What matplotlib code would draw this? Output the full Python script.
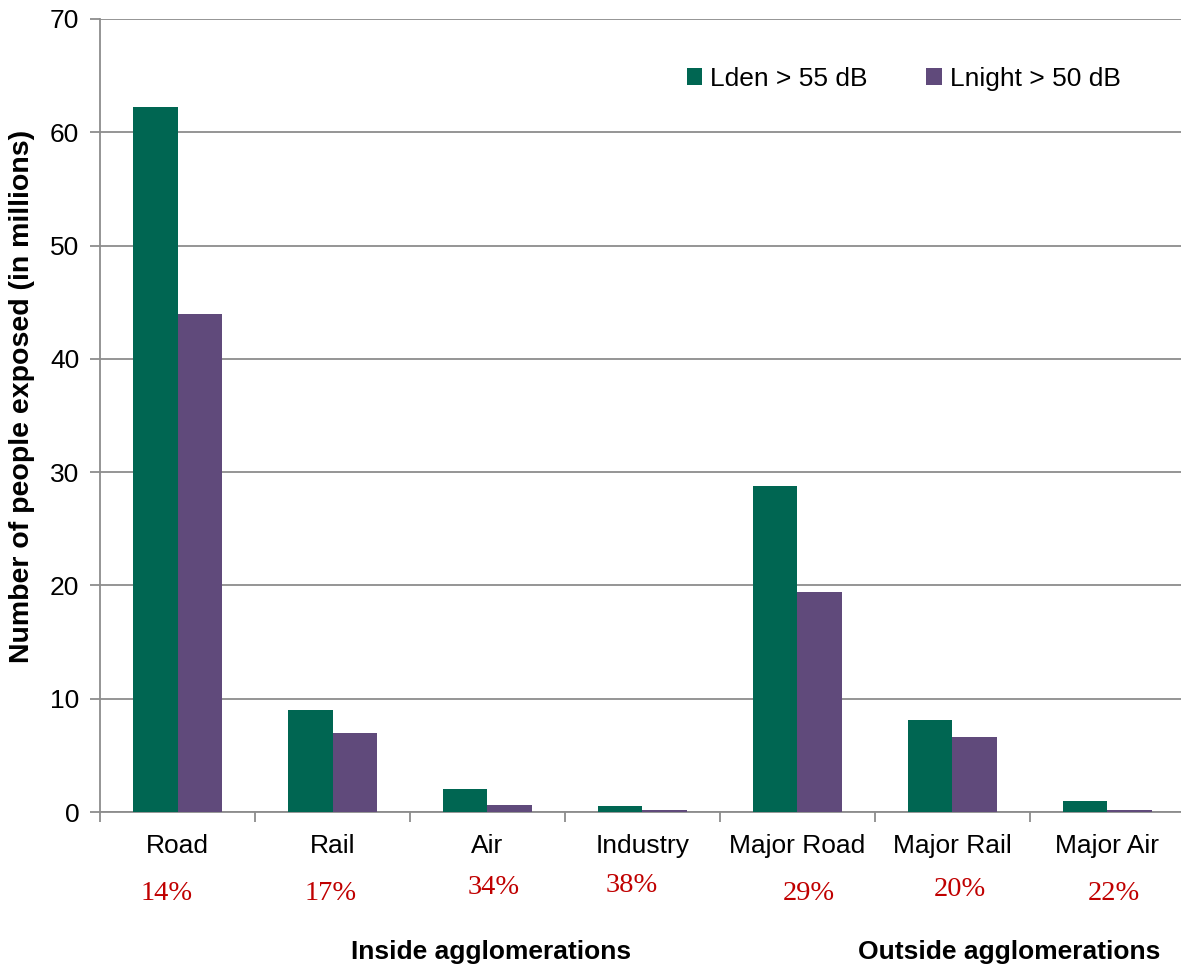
import numpy as np
import matplotlib
matplotlib.use("Agg")
import matplotlib.pyplot as plt
import matplotlib.transforms as mtransforms

plt.rcParams['font.family'] = ['Liberation Sans', 'DejaVu Sans']

categories = ['Road', 'Rail', 'Air', 'Industry', 'Major Road', 'Major Rail', 'Major Air']
lden = [62.2, 9.0, 2.0, 0.5, 28.8, 8.1, 0.95]
lnight = [44.0, 7.0, 0.6, 0.2, 19.4, 6.6, 0.22]
shares = ['14%', '17%', '34%', '38%', '29%', '20%', '22%']
groups = ['Inside agglomerations', 'Outside agglomerations']

green = '#006652'
purple = '#604a7b'
grey = '#8c8c8c'

W, H = 1181, 969
fig = plt.figure(figsize=(W / 100, H / 100), dpi=100)
ax = fig.add_axes([100 / W, (H - 812) / H, 1085 / W, 793 / H])

x = np.arange(len(categories))
bw = 0.285
ax.bar(x - bw / 2, lden, bw, color=green, label='Lden > 55 dB', zorder=3)
ax.bar(x + bw / 2, lnight, bw, color=purple, label='Lnight > 50 dB', zorder=3)

ax.set_xlim(-0.5, len(categories) - 0.5)
ax.set_ylim(0, 70)
ax.set_yticks(range(0, 71, 10))
ax.yaxis.grid(True, color=grey, linewidth=1.3, zorder=0)
ax.set_axisbelow(True)
for s in ['top', 'right']:
    ax.spines[s].set_visible(False)
for s in ['left', 'bottom']:
    ax.spines[s].set_color(grey)
    ax.spines[s].set_linewidth(1.3)

ax.set_xticks(x)
ax.set_xticklabels(categories)
ax.set_xticks(np.arange(-0.5, len(categories), 1.0), minor=True)
ax.tick_params(axis='x', which='major', length=0, pad=16, labelsize=19)
ax.tick_params(axis='x', which='minor', length=7, width=1.3, color=grey)
ax.tick_params(axis='y', length=7, width=1.3, color=grey, labelsize=19, pad=8)

# red shares under each category (slightly uneven as in the original)
share_dx = [-0.07, -0.01, 0.04, -0.07, 0.07, 0.05, 0.04]
share_y = [893, 893, 888, 886, 893, 890, 893]
trans = mtransforms.blended_transform_factory(ax.transData, fig.transFigure)
for i, s in enumerate(shares):
    ax.text(i + share_dx[i], 1 - share_y[i] / H, s, transform=trans,
            ha='center', va='center', color='#c00000', fontsize=20.5,
            family=['Liberation Serif', 'DejaVu Serif'])

fig.text(491 / W, 1 - 952 / H, groups[0], ha='center', va='center',
         fontsize=19, fontweight='bold')
fig.text(1009 / W, 1 - 952 / H, groups[1], ha='center', va='center',
         fontsize=19, fontweight='bold')
fig.text(22 / W, 1 - 396 / H, 'Number of people exposed (in millions)',
         rotation=90, ha='center', va='center', fontsize=20.5, fontweight='bold')

ax.legend(loc='upper right', bbox_to_anchor=((1131 - 100) / 1085, 1 - 37 / 793),
          ncol=2, frameon=False, fontsize=19, handlelength=0.6, handleheight=0.6,
          handletextpad=0.3, columnspacing=2.2, borderaxespad=0)

fig.savefig('out.png', dpi=100)
